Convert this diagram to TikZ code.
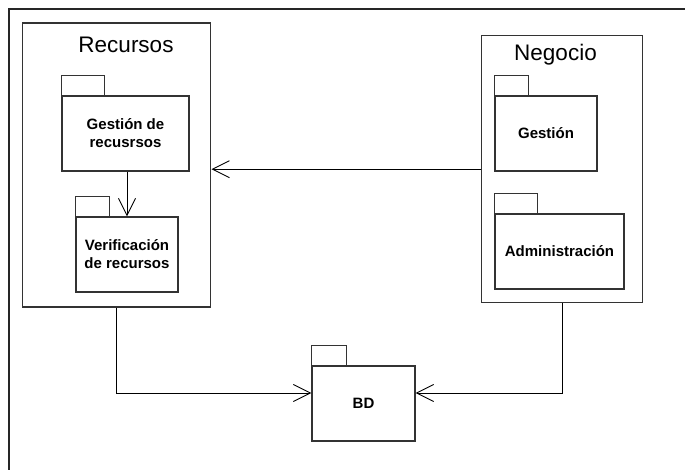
\documentclass[tikz,border=0pt]{standalone}
\usepackage{fontspec}
\setmainfont{Liberation Sans}
\usetikzlibrary{arrows.meta}

\tikzset{
  box/.style={draw=black!80, line width=1.4pt, rectangle, inner sep=0pt},
  pkg/.style={box, align=center, font=\fontsize{15}{18}\selectfont\bfseries},
  title/.style={anchor=base, inner sep=0pt, font=\fontsize{22.5}{25}\selectfont},
  dep/.style={line width=0.9pt, -{Straight Barb[length=17pt,width=17pt,line width=0.9pt]}},
}

\begin{document}
\begin{tikzpicture}[x=1pt, y=-1pt]
				\useasboundingbox (0,0) rectangle (685,470);
				\draw[line width=1.5pt, black!85] (9,470) -- (9,9) -- (685,9);
				% containers
				\node[box, minimum width=188pt, minimum height=284pt] (recursos) at (116.7, 164.9) {};
				\node[title] (trec) at (126, 53) {Recursos};
				\node[box, minimum width=161pt, minimum height=267pt] (negocio) at (562.2, 169.2) {};
				\node[title] (tneg) at (555.5, 61) {Negocio};
				% packages
				\node[pkg, minimum width=127pt, minimum height=75pt] (gesrec) at (125.5, 133.5) {Gestión de\\recusrsos};
				\node[pkg, minimum width=102pt, minimum height=75pt] (verif) at (127, 254.5) {Verificación\\de recursos};
				\node[pkg, minimum width=102pt, minimum height=75pt] (gestion) at (546, 133.5) {Gestión};
				\node[pkg, minimum width=129pt, minimum height=75pt] (admin) at (559.5, 251.5) {Administración};
				\node[pkg, minimum width=103pt, minimum height=75pt] (bd) at (363.5, 403.5) {BD};
				% tabs
				\draw[box] (gesrec.north west) rectangle ++(43, -20);
				\draw[box] (verif.north west) rectangle ++(34, -20);
				\draw[box] (gestion.north west) rectangle ++(34, -20);
				\draw[box] (admin.north west) rectangle ++(43, -20);
				\draw[box] (bd.north west) rectangle ++(35, -20);
				% dependencies
				\draw[dep] (verif.north |- gesrec.south) to (verif.north);
				\draw[dep] (negocio.west) to (negocio.west -| recursos.east);
				\draw[dep] (recursos.south) |- ([yshift=10.5pt]bd.west);
				\draw[dep] (negocio.south) |- ([yshift=10.5pt]bd.east);
			\end{tikzpicture}
\end{document}
